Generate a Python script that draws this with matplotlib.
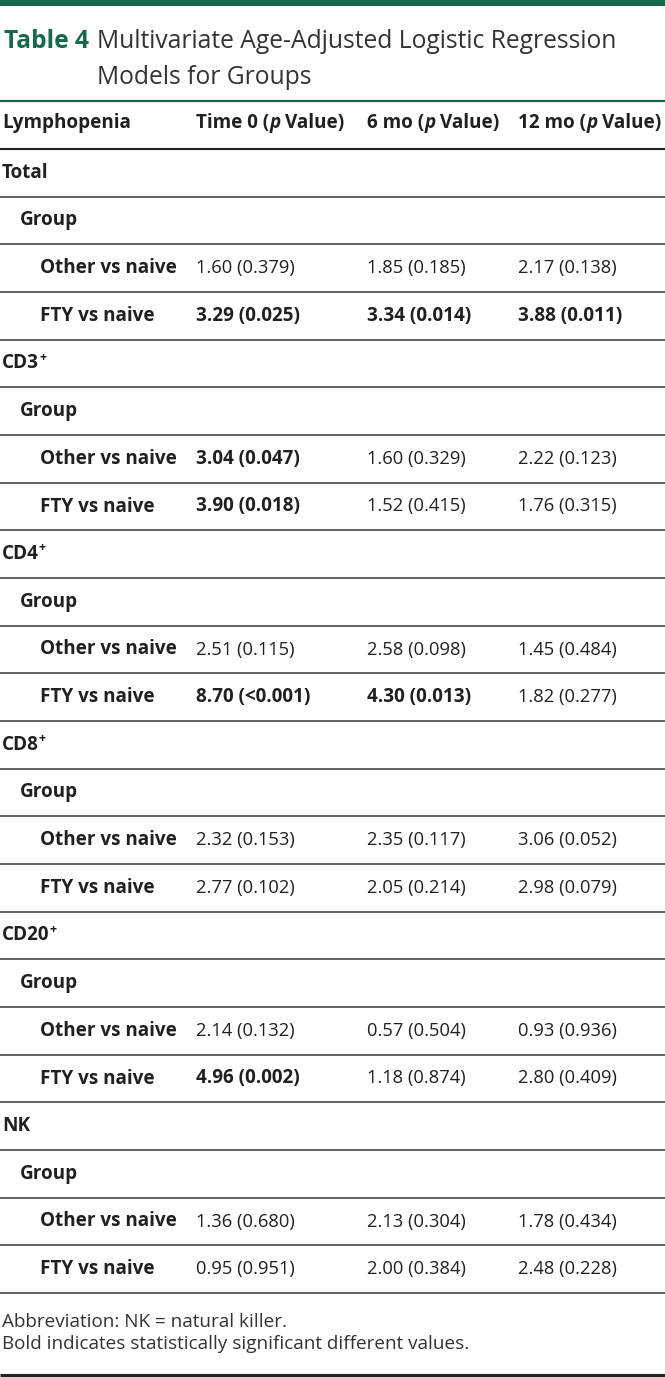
import matplotlib
matplotlib.use("Agg")
import matplotlib.pyplot as plt

# ---------------- data ----------------
title_label = "Table 4"
title_lines = ["Multivariate Age-Adjusted Logistic Regression", "Models for Groups"]
col_header_first = "Lymphopenia"
col_headers = ["Time 0", "6 mo", "12 mo"]
sections = ["Total", "CD3", "CD4", "CD8", "CD20", "NK"]
section_sup = ["", "+", "+", "+", "+", ""]
group_label = "Group"
comparisons = ["Other vs naive", "FTY vs naive"]

t0_or = [[1.60, 3.29], [3.04, 3.90], [2.51, 8.70], [2.32, 2.77], [2.14, 4.96], [1.36, 0.95]]
t0_p = [["0.379", "0.025"], ["0.047", "0.018"], ["0.115", "<0.001"], ["0.153", "0.102"], ["0.132", "0.002"], ["0.680", "0.951"]]
m6_or = [[1.85, 3.34], [1.60, 1.52], [2.58, 4.30], [2.35, 2.05], [0.57, 1.18], [2.13, 2.00]]
m6_p = [["0.185", "0.014"], ["0.329", "0.415"], ["0.098", "0.013"], ["0.117", "0.214"], ["0.504", "0.874"], ["0.304", "0.384"]]
m12_or = [[2.17, 3.88], [2.22, 1.76], [1.45, 1.82], [3.06, 2.98], [0.93, 2.80], [1.78, 2.48]]
m12_p = [["0.138", "0.011"], ["0.123", "0.315"], ["0.484", "0.277"], ["0.052", "0.079"], ["0.936", "0.409"], ["0.434", "0.228"]]

footnotes = ["Abbreviation: NK = natural killer.",
             "Bold indicates statistically significant different values."]

# ---------------- style ----------------
GREEN = "#18694a"
TEXT = "#231f20"
LINE = "#555555"
FONT = "Open Sans"
BODY = 13.6
REG = 13.2
TITLE = 17.7

W, H = 665, 1377
fig = plt.figure(figsize=(W / 100, H / 100), dpi=100)
ax = fig.add_axes([0, 0, 1, 1])
ax.set_xlim(0, W)
ax.set_ylim(H, 0)
ax.axis("off")
renderer = fig.canvas.get_renderer()


def txt(x, y, s, size=BODY, weight="normal", style="normal", color=TEXT, ha="left", va="center"):
    return ax.text(x, y, s, fontsize=size, fontweight=weight, fontstyle=style,
                   color=color, ha=ha, va=va, family=FONT)


def width(s, size=BODY, weight="normal", style="normal"):
    t = txt(0, 0, s, size, weight, style)
    w = t.get_window_extent(renderer).width
    t.remove()
    return w


def hline(y, lw=1.3, color=LINE, x0=0, x1=W):
    ax.plot([x0, x1], [y, y], color=color, lw=lw, solid_capstyle="butt")


# top bar
ax.fill_between([0, W], [0, 0], [5.5, 5.5], color=GREEN, lw=0)

# title
txt(4, 42, title_label, size=TITLE, weight="bold", color=GREEN)
txt(97, 42, title_lines[0], size=TITLE, color="#333333")
txt(97, 77, title_lines[1], size=TITLE, color="#333333")

hline(101, lw=1.6, color=GREEN)

# header
col_x = [196, 367, 518]
HY = 123
txt(2, HY, col_header_first, weight="bold")
space_w = width("a a", weight="bold") - width("aa", weight="bold")
for cx, h in zip(col_x, col_headers):
    x = cx
    t = txt(x, HY, h + " (", weight="bold")
    x += t.get_window_extent(renderer).width
    t = txt(x, HY, "p", weight="bold", style="italic")
    x += t.get_window_extent(renderer).width + space_w
    txt(x, HY, "Value)", weight="bold")

Y0 = 149
RH = (1293 - 149) / 24.0
hline(Y0, lw=1.5, color="#222222")


def fmt(orv, p):
    return f"{orv:.2f} ({p})"


def sig(p):
    return float(p.replace("<", "")) < 0.05


row = 0
for si, sec in enumerate(sections):
    yc = Y0 + RH * (row + 0.5)
    t = txt(2, yc, sec, weight="bold")
    if section_sup[si]:
        wsec = t.get_window_extent(renderer).width
        txt(2 + wsec, yc - 6.5, section_sup[si], size=BODY * 0.66, weight="bold")
    row += 1
    hline(Y0 + RH * row)
    yc = Y0 + RH * (row + 0.5)
    txt(20, yc, group_label, weight="bold")
    row += 1
    hline(Y0 + RH * row)
    for ci, comp in enumerate(comparisons):
        yc = Y0 + RH * (row + 0.5)
        txt(40, yc, comp, weight="bold")
        for cx, ors, ps in zip(col_x, [t0_or, m6_or, m12_or], [t0_p, m6_p, m12_p]):
            p = ps[si][ci]
            if sig(p):
                txt(cx, yc, fmt(ors[si][ci], p), weight="bold")
            else:
                txt(cx, yc, fmt(ors[si][ci], p), size=REG)
        row += 1
        hline(Y0 + RH * row)

# footnotes
txt(2, 1322, footnotes[0], size=13.6, color="#333333")
txt(2, 1344, footnotes[1], size=13.6, color="#333333")

hline(1375, lw=2.2, color="#222222")

fig.savefig("out.png", dpi=100)
